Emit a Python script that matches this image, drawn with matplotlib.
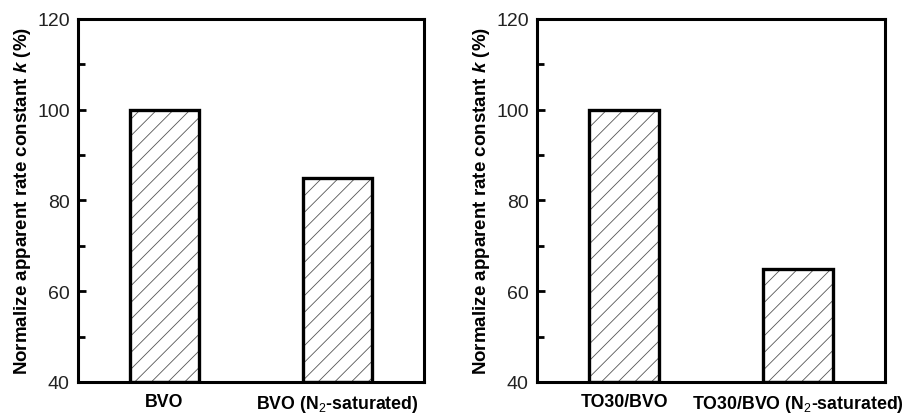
import numpy as np
import matplotlib.pyplot as plt

plt.rcParams['font.family'] = ['Liberation Sans', 'DejaVu Sans']
plt.rcParams['mathtext.fontset'] = 'custom'
plt.rcParams['mathtext.rm'] = 'Liberation Sans'
plt.rcParams['mathtext.bf'] = 'Liberation Sans:bold'
plt.rcParams['mathtext.bfit'] = 'Liberation Sans:bold:italic'
plt.rcParams['hatch.linewidth'] = 0.6

# data
left_labels = ['BVO', r'BVO (N$_2$-saturated)']
left_values = [100, 85]
right_labels = ['TO30/BVO', r'TO30/BVO (N$_2$-saturated)']
right_values = [100, 65]

ylabel = r'Normalize apparent rate constant $\mathbfit{k}$ (%)'

fig = plt.figure(figsize=(9.11, 4.14), dpi=100)
ax1 = fig.add_axes([0.0856, 0.0749, 0.380, 0.8768])
ax2 = fig.add_axes([0.5895, 0.0749, 0.382, 0.8768])


def draw_panel(ax, labels, values):
    x = np.arange(len(values))
    # hatch layer (gray) then black outline on top
    ax.bar(x, np.array(values) - 40, width=0.4, bottom=40, color='white',
           edgecolor='#555555', hatch='//', linewidth=0)
    ax.bar(x, np.array(values) - 40, width=0.4, bottom=40, fill=False,
           edgecolor='black', linewidth=2.4)
    ax.set_xlim(-0.5, 1.5)
    ax.set_ylim(40, 120)
    ax.set_xticks(x)
    ax.set_xticklabels(labels, fontsize=12.8, fontweight='bold')
    ax.tick_params(axis='x', length=0, pad=8)
    ax.set_yticks([40, 60, 80, 100, 120])
    ax.set_yticks([50, 70, 90, 110], minor=True)
    ax.tick_params(axis='y', which='major', direction='in', length=6,
                   width=2, labelsize=14, pad=6, labelcolor='#222222')
    ax.tick_params(axis='y', which='minor', direction='in', length=5,
                   width=2)
    for s in ax.spines.values():
        s.set_linewidth(2.2)
    ax.set_ylabel(ylabel, fontsize=13.5, fontweight='bold', labelpad=3)


draw_panel(ax1, left_labels, left_values)
draw_panel(ax2, right_labels, right_values)

fig.savefig('out.png', dpi=100)
